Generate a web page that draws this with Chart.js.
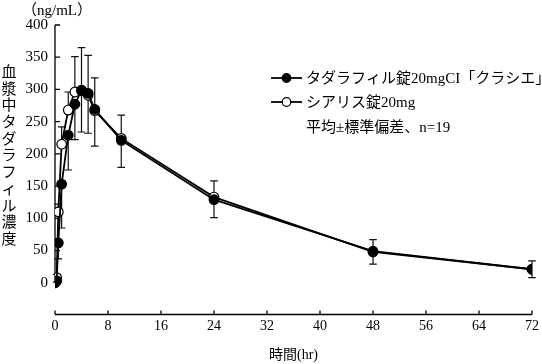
<!DOCTYPE html>
<html><head><meta charset="utf-8">
<script src="https://cdn.jsdelivr.net/npm/chart.js@4/dist/chart.umd.min.js"></script>
<style>html,body{margin:0;padding:0;background:#fff;}canvas{display:block;}</style>
</head><body>
<canvas id="c" width="542" height="364"></canvas>
<script>
const times = [0, 0.25, 0.5, 1, 2, 3, 4, 5, 6, 10, 24, 48, 72];
const testMean = [0, 3, 62, 153, 229, 277, 299, 294, 269, 221, 129, 49, 21];
const testSD   = [0, 2, 25, 68, 54, 55, 65, 62, 57, 42, 28, 20, 13];
const refMean  = [0, 8, 110, 215, 268, 296, 298, 291, 267, 224, 133, 48, 21];
const refSD    = [0, 5, 12, 27, 28, 55, 67, 62, 51, 36, 25, 19, 13];
const xTickValues = [0, 8, 16, 24, 32, 40, 48, 56, 64, 72];
const yTickValues = [0, 50, 100, 150, 200, 250, 300, 350, 400];
const seriesLabels = ['タダラフィル錠20mgCI「クラシエ」', 'シアリス錠20mg'];
const noteText = '平均±標準偏差、n=19';
const yTitleText = '血漿中タダラフィル濃度';
const unitText = '（ng/mL）';
const xTitleText = '時間(hr)';

const FONT = "'Liberation Serif', 'Noto Sans CJK JP', serif";

function pts(xs, ys) { return xs.map((t, i) => ({x: t, y: ys[i]})); }

const errorBars = {
  id: 'errorBars',
  beforeDatasetsDraw(chart) {
    const {ctx, scales: {x, y}} = chart;
    ctx.save();
    ctx.strokeStyle = '#111';
    ctx.lineWidth = 1.2;
    chart.data.datasets.forEach(ds => {
      ds.sd.forEach((s, i) => {
        if (!s) return;
        const px = x.getPixelForValue(ds.data[i].x);
        const p0 = y.getPixelForValue(ds.data[i].y);
        const p1 = y.getPixelForValue(ds.data[i].y + ds.dir * s);
        ctx.beginPath();
        ctx.moveTo(px, p0); ctx.lineTo(px, p1);
        ctx.moveTo(px - 3.8, p1); ctx.lineTo(px + 3.8, p1);
        ctx.stroke();
      });
    });
    // axes
    ctx.strokeStyle = '#000';
    ctx.lineWidth = 1.3;
    const xl = x.getPixelForValue(0);
    ctx.beginPath();
    ctx.moveTo(xl, y.getPixelForValue(yTickValues[0]));
    ctx.lineTo(xl, y.getPixelForValue(yTickValues[yTickValues.length - 1]));
    y.ticks.forEach(t => {
      const py = y.getPixelForValue(t.value);
      ctx.moveTo(xl, py); ctx.lineTo(xl + 5, py);
    });
    const yb = chart.chartArea.bottom - 0.5;
    ctx.moveTo(x.getPixelForValue(0), yb);
    ctx.lineTo(x.getPixelForValue(72), yb);
    x.ticks.forEach(t => {
      const px = x.getPixelForValue(t.value);
      ctx.moveTo(px, yb); ctx.lineTo(px, yb - 4);
    });
    ctx.stroke();
    ctx.restore();
  },
  afterDatasetsDraw(chart) {
    const {ctx} = chart;
    ctx.save();
    ctx.fillStyle = '#000';
    ctx.textBaseline = 'middle';
    // y title, vertical upright
    ctx.font = '15px ' + FONT;
    ctx.textAlign = 'center';
    [...yTitleText].forEach((ch, i) => ctx.fillText(ch, 9, 73 + i * 16.7));
    // unit
    ctx.textAlign = 'left';
    ctx.font = '15px ' + FONT;
    ctx.fillText(unitText, 22, 11);
    // legend
    const rows = [78, 102];
    chart.data.datasets.forEach((ds, i) => {
      const yy = rows[i];
      ctx.strokeStyle = '#000';
      ctx.lineWidth = 1.8;
      ctx.beginPath(); ctx.moveTo(271, yy); ctx.lineTo(302, yy); ctx.stroke();
      ctx.fillStyle = ds.pointBackgroundColor;
      ctx.strokeStyle = '#000';
      ctx.lineWidth = 1.2;
      Chart.helpers.drawPoint(ctx, {pointStyle: 'circle', radius: 4.3, rotation: 0, borderWidth: 1.2}, 286.5, yy);
      ctx.fillStyle = '#000';
      ctx.font = '15px ' + FONT;
      ctx.fillText(ds.label, 306, yy + 1);
    });
    ctx.fillText(noteText, 306, 128);
    ctx.restore();
  }
};

new Chart(document.getElementById('c'), {
  type: 'line',
  data: {
    datasets: [
      {label: seriesLabels[0], data: pts(times, testMean), sd: testSD, dir: -1,
       borderColor: '#000', borderWidth: 1.8, pointRadius: 4.8, pointBorderWidth: 1.2,
       pointBackgroundColor: '#000', pointBorderColor: '#000', tension: 0},
      {label: seriesLabels[1], data: pts(times, refMean), sd: refSD, dir: 1,
       borderColor: '#000', borderWidth: 1.8, pointRadius: 4.8, pointBorderWidth: 1.2,
       pointBackgroundColor: '#fff', pointBorderColor: '#000', tension: 0}
    ]
  },
  options: {
    responsive: false, animation: false, devicePixelRatio: 1,
    layout: {padding: {left: 15, right: 6, top: 25, bottom: 0}},
    plugins: {legend: {display: false}, tooltip: {enabled: false}},
    scales: {
      x: {type: 'linear', min: 0, max: 72,
          afterBuildTicks: s => { s.ticks = xTickValues.map(v => ({value: v})); },
          afterFit: s => { s.height = 49; },
          grid: {display: false, drawTicks: false}, border: {display: false},
          ticks: {font: {family: FONT, size: 14}, color: '#000', padding: 3, maxRotation: 0},
          title: {display: true, text: xTitleText, font: {family: FONT, size: 14, lineHeight: 1}, color: '#000', padding: {top: 0, bottom: 2}}},
      y: {type: 'linear', min: -50, max: 400,
          afterBuildTicks: s => { s.ticks = yTickValues.map(v => ({value: v})); },
          afterFit: s => { s.width = 40; },
          grid: {display: false, drawTicks: false}, border: {display: false},
          ticks: {font: {family: FONT, size: 15}, color: '#000', padding: 7}}
    }
  },
  plugins: [errorBars]
});
</script>
</body></html>
